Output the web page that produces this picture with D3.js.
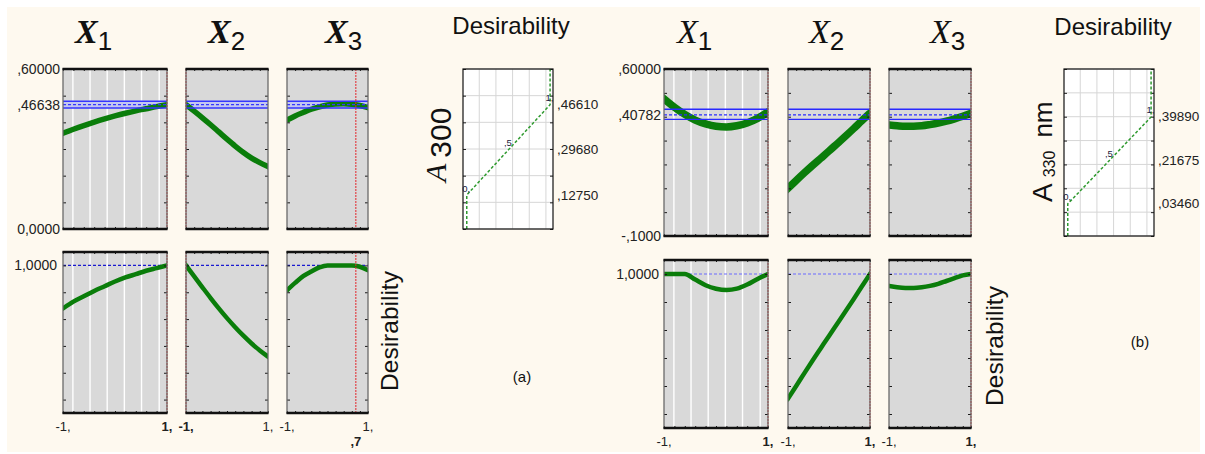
<!DOCTYPE html>
<html>
<head>
<meta charset="utf-8">
<style>
  body { margin: 0; background: #ffffff; }
  svg { display: block; }
  text { font-family: "Liberation Sans", Arial, sans-serif; }
</style>
</head>
<body>
<script src="https://d3js.org/d3.v7.min.js"></script>
<script>

// factor levels (coded -1 .. 1) at which the profiles were read
const xLevels = [-1, -0.8, -0.6, -0.4, -0.2, 0, 0.2, 0.4, 0.6, 0.8, 1];
const factorSubs = ['1', '2', '3'];

// (a) predicted A300 profiles
const a300X1 = [0.359, 0.374, 0.388, 0.401, 0.413, 0.424, 0.434, 0.443, 0.451, 0.459, 0.466];
const a300X2 = [0.466, 0.442, 0.417, 0.391, 0.364, 0.337, 0.311, 0.287, 0.266, 0.249, 0.234];
const a300X3 = [0.408, 0.424, 0.437, 0.449, 0.458, 0.465, 0.469, 0.470, 0.468, 0.463, 0.455];
// (a) desirability profiles
const aDesX1 = [0.68, 0.73, 0.77, 0.81, 0.845, 0.88, 0.91, 0.935, 0.96, 0.98, 1.0];
const aDesX2 = [1.0, 0.918, 0.837, 0.757, 0.68, 0.607, 0.539, 0.476, 0.418, 0.366, 0.32];
const aDesX3 = [0.815, 0.87, 0.92, 0.955, 0.985, 1.0, 1.0, 1.0, 1.0, 0.99, 0.965];

// (b) predicted A330 profiles
const a330X1 = [0.475, 0.44, 0.41, 0.386, 0.37, 0.36, 0.357, 0.362, 0.374, 0.393, 0.42];
const a330X2 = [0.10, 0.133, 0.165, 0.196, 0.226, 0.256, 0.287, 0.318, 0.35, 0.383, 0.415];
const a330X3 = [0.365, 0.362, 0.36, 0.36, 0.362, 0.367, 0.373, 0.381, 0.391, 0.402, 0.414];
// (b) desirability profiles
const bDesX1 = [1, 1, 1, 0.96, 0.92, 0.895, 0.885, 0.895, 0.925, 0.965, 1];
const bDesX2 = [0.11, 0.2, 0.292, 0.382, 0.47, 0.558, 0.645, 0.732, 0.82, 0.91, 1.0];
const bDesX3 = [0.915, 0.905, 0.9, 0.9, 0.905, 0.915, 0.93, 0.95, 0.97, 0.99, 1.0];

// current factor settings, predicted value and its confidence band
const aCurrent = [1, -1, 0.7];
const bCurrent = [1, 1, 1];
const aPred = 0.46638, aCI = [0.4535, 0.4792];
const bPred = 0.40782, bCI = [0.389, 0.431];

// response axes
const aRespTicks = [0, 0.1, 0.2, 0.3, 0.4, 0.5, 0.6];
const bRespTicks = [-0.1, 0, 0.1, 0.2, 0.3, 0.4, 0.5, 0.6];
const aRespLabelVals = [0.6, 0.46638, 0];
const aRespLabels = [',60000', ',46638', '0,0000'];
const bRespLabelVals = [0.6, 0.40782, -0.1];
const bRespLabels = [',60000', ',40782', '-,1000'];
const desDomain = [-0.1, 1.1];
const desTicks = [0, 0.2, 0.4, 0.6, 0.8, 1.0];
const desLabel = '1,0000';
const x1Grid = [-0.81, -0.48, -0.15, 0.18, 0.51, 0.85];

// desirability functions (desirability vs response)
const dfD = [0, 0, 0.5, 1, 1];
const aDfA = [0, 0.1275, 0.2968, 0.4661, 0.6];
const bDfA = [-0.1, 0.0346, 0.21675, 0.3989, 0.6];
const aDfLabels = [',12750', ',29680', ',46610'];
const bDfLabels = [',03460', ',21675', ',39890'];
const dfPointLabels = ['0,', ',5', '1,'];
const dDomain = [-0.045, 1.035];
const dGrid = [0.15, 0.35, 0.55, 0.75, 0.95];

const serif = '"Liberation Serif", "Times New Roman", serif';
const green = '#0a7d0a';

const svg = d3.select('body').append('svg')
  .attr('width', 1205)
  .attr('height', 454);

svg.append('rect')
  .attr('x', 7).attr('y', 7)
  .attr('width', 1193).attr('height', 445)
  .attr('fill', '#fef9ef');

const figures = [
  {
    panelX: [[63, 167], [186, 268], [287, 368]],
    topY: [69, 229], botY: [252, 413],
    respDomain: [0, 0.6], respTicks: aRespTicks,
    resp: [a300X1, a300X2, a300X3], des: [aDesX1, aDesX2, aDesX3],
    current: aCurrent, pred: aPred, ci: aCI,
    labelVals: aRespLabelVals, labels: aRespLabels, labelEnd: 60, desLabelEnd: 57,
    titleX: [75, 208, 325], titleBold: true,
    xLabelY: 431, extraLabelY: 446,
    topWidth: 5.5, band: true, blue: '#3535ff', desBlue: '#1a1ad0',
    dfX: [463, 553], dfA: aDfA, dfLabels: aDfLabels,
    dTitleX: 511, dTitleY: 34, rotX: 398, rotY: 331,
    tag: '(a)', tagX: 522, tagY: 382
  },
  {
    panelX: [[664, 768], [788, 870], [889, 971]],
    topY: [69, 236], botY: [260, 428],
    respDomain: [-0.1, 0.6], respTicks: bRespTicks,
    resp: [a330X1, a330X2, a330X3], des: [bDesX1, bDesX2, bDesX3],
    current: bCurrent, pred: bPred, ci: bCI,
    labelVals: bRespLabelVals, labels: bRespLabels, labelEnd: 661, desLabelEnd: 659,
    titleX: [677, 809, 930], titleBold: false,
    xLabelY: 446, extraLabelY: 460,
    topWidth: 7.5, band: false, blue: '#2a2aff', desBlue: '#6a6aff',
    dfX: [1064, 1154], dfA: bDfA, dfLabels: bDfLabels,
    dTitleX: 1113, dTitleY: 35, rotX: 1003, rotY: 346,
    tag: '(b)', tagX: 1140, tagY: 347
  }
];

const fmt = (v) => Number.isInteger(v) ? v + ',' : String(v).replace('0.', ',');
let clipCount = 0;

function panelBack(g, x, y, grid) {
  const [x0, x1] = x.range();
  const [yb, yt] = y.range();
  g.append('rect')
    .attr('x', x0).attr('y', yt)
    .attr('width', x1 - x0).attr('height', yb - yt)
    .attr('fill', '#d9d9d9');
  if (grid) {
    g.selectAll('line.grid')
      .data(x1Grid)
      .join('line')
      .attr('class', 'grid')
      .attr('x1', (d) => x(d)).attr('x2', (d) => x(d))
      .attr('y1', yt).attr('y2', yb)
      .attr('stroke', '#ffffff')
      .attr('stroke-width', 1.4);
  }
}

function panelClip(x, y) {
  const id = 'clip' + (clipCount++);
  const [x0, x1] = x.range();
  const [yb, yt] = y.range();
  svg.append('clipPath').attr('id', id)
    .append('rect')
    .attr('x', x0).attr('y', yt)
    .attr('width', x1 - x0).attr('height', yb - yt);
  return `url(#${id})`;
}

function panelFrame(g, x, y, ticks, cur) {
  const [x0, x1] = x.range();
  const [yb, yt] = y.range();
  g.append('line')
    .attr('x1', x(cur)).attr('x2', x(cur))
    .attr('y1', yt).attr('y2', yb)
    .attr('stroke', '#e3262b')
    .attr('stroke-width', 1)
    .attr('stroke-dasharray', '2,1');

  const axes = [
    [d3.axisRight(y).tickValues(ticks).tickSize(3), `translate(${x0},0)`],
    [d3.axisLeft(y).tickValues(ticks).tickSize(3), `translate(${x1},0)`],
    [d3.axisTop(x).ticks(10).tickSize(2), `translate(0,${yb})`],
    [d3.axisBottom(x).ticks(10).tickSize(2), `translate(0,${yt})`]
  ];
  axes.forEach(([ax, tr]) => {
    const a = g.append('g').attr('transform', tr).call(ax.tickFormat(''));
    a.select('.domain').remove();
    a.selectAll('line').attr('stroke', '#1a1a1a');
  });

  g.append('rect')
    .attr('x', x0).attr('y', yt)
    .attr('width', x1 - x0).attr('height', yb - yt)
    .attr('fill', 'none')
    .attr('stroke', '#6a6a6a')
    .attr('stroke-width', 1.3);
  [yt, yb].forEach((yy) => {
    g.append('line')
      .attr('x1', x0 - 0.5).attr('x2', x1 + 0.5)
      .attr('y1', yy).attr('y2', yy)
      .attr('stroke', '#111')
      .attr('stroke-width', 2.5);
  });
}

function drawFigure(f) {
  const yTop = d3.scaleLinear().domain(f.respDomain).range([f.topY[1], f.topY[0]]);
  const yBot = d3.scaleLinear().domain(desDomain).range([f.botY[1], f.botY[0]]);
  const profile = (x, y) => d3.line()
    .x((d, i) => x(xLevels[i]))
    .y((d) => y(d))
    .curve(d3.curveMonotoneX);

  f.panelX.forEach((px, i) => {
    const x = d3.scaleLinear().domain([-1, 1]).range(px);

    // response profile
    const gt = svg.append('g');
    panelBack(gt, x, yTop, i === 0);
    if (f.band) {
      gt.append('rect')
        .attr('x', px[0]).attr('y', yTop(f.ci[1]))
        .attr('width', px[1] - px[0])
        .attr('height', yTop(f.ci[0]) - yTop(f.ci[1]))
        .attr('fill', '#c3c6f0');
    }
    gt.append('path')
      .datum(f.resp[i])
      .attr('d', profile(x, yTop))
      .attr('clip-path', panelClip(x, yTop))
      .attr('fill', 'none')
      .attr('stroke', green)
      .attr('stroke-width', f.topWidth)
      .attr('stroke-linecap', 'square')
      .attr('stroke-linejoin', 'round');
    f.ci.forEach((c) => {
      gt.append('line')
        .attr('x1', px[0]).attr('x2', px[1])
        .attr('y1', yTop(c)).attr('y2', yTop(c))
        .attr('stroke', f.blue).attr('stroke-width', 1.4);
    });
    gt.append('line')
      .attr('x1', px[0]).attr('x2', px[1])
      .attr('y1', yTop(f.pred)).attr('y2', yTop(f.pred))
      .attr('stroke', f.blue).attr('stroke-width', 1.4)
      .attr('stroke-dasharray', '3,2');
    panelFrame(gt, x, yTop, f.respTicks, f.current[i]);

    // desirability profile
    const gb = svg.append('g');
    panelBack(gb, x, yBot, i === 0);
    gb.append('line')
      .attr('x1', px[0]).attr('x2', px[1])
      .attr('y1', yBot(1)).attr('y2', yBot(1))
      .attr('stroke', f.desBlue).attr('stroke-width', 1.1)
      .attr('stroke-dasharray', '3,2');
    gb.append('path')
      .datum(f.des[i])
      .attr('d', profile(x, yBot))
      .attr('clip-path', panelClip(x, yBot))
      .attr('fill', 'none')
      .attr('stroke', green)
      .attr('stroke-width', 4.5)
      .attr('stroke-linecap', 'square')
      .attr('stroke-linejoin', 'round');
    panelFrame(gb, x, yBot, desTicks, f.current[i]);

    // factor level labels
    [-1, 1].forEach((v) => {
      svg.append('text')
        .attr('x', x(v)).attr('y', f.xLabelY)
        .attr('text-anchor', 'middle')
        .attr('font-size', 13)
        .attr('font-weight', v === f.current[i] ? 'bold' : 'normal')
        .attr('fill', '#222')
        .text(fmt(v));
    });
    if (f.current[i] !== -1 && f.current[i] !== 1) {
      svg.append('text')
        .attr('x', x(f.current[i])).attr('y', f.extraLabelY)
        .attr('text-anchor', 'middle')
        .attr('font-size', 13)
        .attr('font-weight', 'bold')
        .attr('fill', '#222')
        .text(fmt(f.current[i]));
    }

    // factor title
    const t = svg.append('text').attr('x', f.titleX[i]).attr('y', 43).attr('fill', '#111');
    t.append('tspan')
      .attr('font-family', serif)
      .attr('font-style', 'italic')
      .attr('font-weight', f.titleBold ? 'bold' : 'normal')
      .attr('font-size', 34)
      .text('X');
    t.append('tspan')
      .attr('font-size', 26)
      .attr('dy', 7)
      .text(factorSubs[i]);
  });

  // response axis labels
  f.labelVals.forEach((v, k) => {
    svg.append('text')
      .attr('x', f.labelEnd).attr('y', yTop(v))
      .attr('text-anchor', 'end')
      .attr('dominant-baseline', 'central')
      .attr('font-size', 14)
      .attr('fill', '#222')
      .text(f.labels[k]);
  });
  svg.append('text')
    .attr('x', f.desLabelEnd).attr('y', yBot(1))
    .attr('text-anchor', 'end')
    .attr('dominant-baseline', 'central')
    .attr('font-size', 14)
    .attr('fill', '#222')
    .text(desLabel);

  svg.append('text')
    .attr('transform', `translate(${f.rotX},${f.rotY}) rotate(-90)`)
    .attr('text-anchor', 'middle')
    .attr('font-size', 24.5)
    .attr('fill', '#111')
    .text('Desirability');

  svg.append('text')
    .attr('x', f.tagX).attr('y', f.tagY)
    .attr('text-anchor', 'middle')
    .attr('font-size', 15)
    .attr('fill', '#111')
    .text(f.tag);

  drawDesFunction(f, yTop);
}

function drawDesFunction(f, y) {
  const x = d3.scaleLinear().domain(dDomain).range(f.dfX);
  const [yb, yt] = y.range();
  const g = svg.append('g');
  g.append('rect')
    .attr('x', f.dfX[0]).attr('y', yt)
    .attr('width', f.dfX[1] - f.dfX[0]).attr('height', yb - yt)
    .attr('fill', '#ffffff');
  g.selectAll('line.vg')
    .data(dGrid)
    .join('line')
    .attr('class', 'vg')
    .attr('x1', (d) => x(d)).attr('x2', (d) => x(d))
    .attr('y1', yt).attr('y2', yb)
    .attr('stroke', '#d6d6d6');
  g.selectAll('line.hg')
    .data(f.respTicks)
    .join('line')
    .attr('class', 'hg')
    .attr('x1', f.dfX[0]).attr('x2', f.dfX[1])
    .attr('y1', (d) => y(d)).attr('y2', (d) => y(d))
    .attr('stroke', '#d6d6d6');

  [[d3.axisRight(y), f.dfX[0]], [d3.axisLeft(y), f.dfX[1]]].forEach(([ax, tx]) => {
    const a = g.append('g')
      .attr('transform', `translate(${tx},0)`)
      .call(ax.tickValues(f.respTicks).tickSize(3).tickFormat(''));
    a.select('.domain').remove();
    a.selectAll('line').attr('stroke', '#222');
  });

  const pts = dfD.map((d, i) => [d, f.dfA[i]]);
  g.append('path')
    .datum(pts)
    .attr('d', d3.line().x((p) => x(p[0])).y((p) => y(p[1])))
    .attr('fill', 'none')
    .attr('stroke', '#2f9a2f')
    .attr('stroke-width', 1.5)
    .attr('stroke-dasharray', '3,2');

  g.append('rect')
    .attr('x', f.dfX[0]).attr('y', yt)
    .attr('width', f.dfX[1] - f.dfX[0]).attr('height', yb - yt)
    .attr('fill', 'none')
    .attr('stroke', '#111')
    .attr('stroke-width', 1.2);

  pts.slice(1, 4).forEach((p, k) => {
    g.append('text')
      .attr('x', x(p[0]) - 4.5).attr('y', y(p[1]) - 3.5)
      .attr('font-size', 9.5)
      .attr('fill', '#1b1b40')
      .text(dfPointLabels[k]);
    svg.append('text')
      .attr('x', f.dfX[1] + 4).attr('y', y(p[1]))
      .attr('dominant-baseline', 'central')
      .attr('font-size', 13.5)
      .attr('fill', '#222')
      .text(f.dfLabels[k]);
  });

  svg.append('text')
    .attr('x', f.dTitleX).attr('y', f.dTitleY)
    .attr('text-anchor', 'middle')
    .attr('font-size', 24)
    .attr('fill', '#111')
    .text('Desirability');
}

figures.forEach(drawFigure);

// response names on the desirability function panels
const ta = svg.append('text')
  .attr('transform', 'translate(446,182) rotate(-90)')
  .attr('fill', '#111');
ta.append('tspan').attr('font-family', serif).attr('font-style', 'italic').attr('font-size', 30).text('A');
ta.append('tspan').attr('font-size', 30).attr('dx', 6).attr('dy', 5).text('300');

const tb = svg.append('text')
  .attr('transform', 'translate(1052,202) rotate(-90)')
  .attr('fill', '#111');
tb.append('tspan').attr('font-size', 28).text('A');
tb.append('tspan').attr('font-size', 16).attr('dx', 6).attr('dy', 3).text('330');
tb.append('tspan').attr('font-size', 26).attr('dx', 13).attr('dy', -3).text('nm');

</script>
</body>
</html>
